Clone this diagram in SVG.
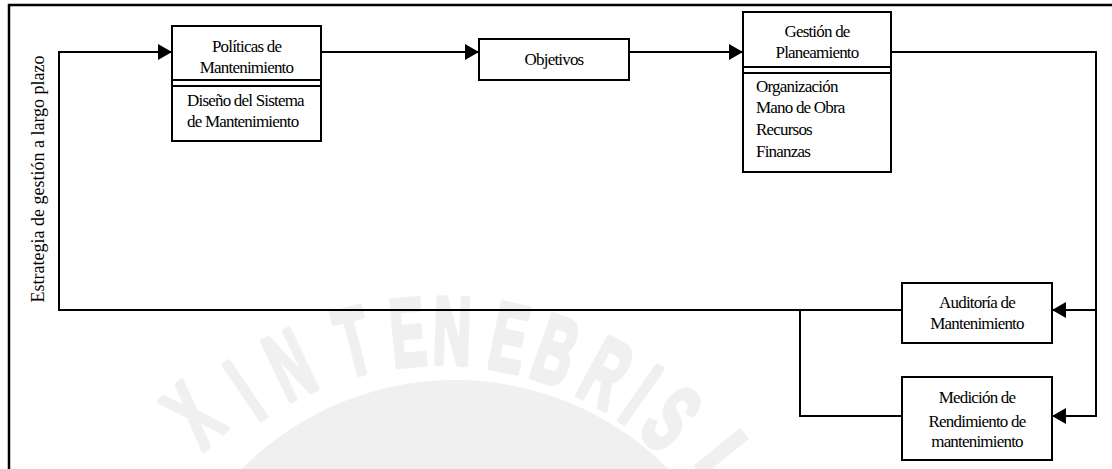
<svg xmlns="http://www.w3.org/2000/svg" width="1112" height="469" viewBox="0 0 1112 469">
  <style>
    .box { fill: #ffffff; stroke: #000000; stroke-width: 2; }
    .sep { stroke: #000000; stroke-width: 2; fill: none; }
    .wire { stroke: #000000; stroke-width: 2; fill: none; }
    .frame { stroke: #000000; stroke-width: 2.5; fill: none; }
    .lbl { font-family: "Liberation Serif", "Times New Roman", serif; font-size: 17px; letter-spacing: -0.8px; fill: #000000; }
    .mid { text-anchor: middle; }
    .side { font-family: "Liberation Serif", "Times New Roman", serif; font-size: 18px; fill: #000000; text-anchor: middle; }
    .seal { font-family: "Liberation Sans", Arial, sans-serif; font-weight: bold; font-size: 96px; fill: #f0f0f0; stroke: #f0f0f0; stroke-width: 5; stroke-linejoin: round; text-anchor: middle; }
  </style>
  <defs>
    <marker id="head" markerUnits="userSpaceOnUse" markerWidth="15" markerHeight="18" refX="14" refY="8" orient="auto">
      <path d="M0,0 L14,8 L0,16 Z" fill="#000000"/>
    </marker>
  </defs>

  <rect width="1112" height="469" fill="#ffffff"/>

  <!-- faint background seal -->
  <g id="seal">
    <circle cx="455" cy="680" r="300" fill="#f0f0f0"/>
    <g transform="translate(440,680)">
      <text class="seal" transform="rotate(-43) scale(0.55,1)" x="0" y="-329">X</text>
      <text class="seal" transform="rotate(-34) scale(0.55,1)" x="0" y="-316">I</text>
      <text class="seal" transform="rotate(-25.5) scale(0.55,1)" x="0" y="-316">N</text>
      <text class="seal" transform="rotate(-14.3) scale(0.55,1)" x="0" y="-316">T</text>
      <text class="seal" transform="rotate(-5.3) scale(0.55,1)" x="0" y="-316">E</text>
      <text class="seal" transform="rotate(2) scale(0.55,1)" x="0" y="-316">N</text>
      <text class="seal" transform="rotate(11.4) scale(0.55,1)" x="0" y="-316">E</text>
      <text class="seal" transform="rotate(19.4) scale(0.55,1)" x="0" y="-316">B</text>
      <text class="seal" transform="rotate(28.4) scale(0.55,1)" x="0" y="-316">R</text>
      <text class="seal" transform="rotate(35.1) scale(0.55,1)" x="0" y="-316">I</text>
      <text class="seal" transform="rotate(41.5) scale(0.55,1)" x="0" y="-316">S</text>
      <rect transform="rotate(51)" x="-7" y="-392" width="14" height="60" fill="#f0f0f0"/>
    </g>
  </g>

  <!-- outer frame (left and top edges) -->
  <path class="frame" d="M9,469 V5 H1112"/>

  <!-- connectors -->
  <g id="connectors">
    <path class="wire" d="M902,310 H59 V52 H172" marker-end="url(#head)"/>
    <path class="wire" d="M902,416 H800 V310"/>
    <path class="wire" d="M321,52 H479" marker-end="url(#head)"/>
    <path class="wire" d="M629,52 H743" marker-end="url(#head)"/>
    <path class="wire" d="M891,52 H1096 V416 H1052" marker-end="url(#head)"/>
    <path class="wire" d="M1096,310 H1052" marker-end="url(#head)"/>
  </g>

  <g id="estrategia">
    <text class="side" transform="translate(44,179) rotate(-90)" x="0" y="0">Estrategia de gestión a largo plazo</text>
  </g>

  <g id="politicas">
    <rect class="box" x="172" y="26" width="149" height="115"/>
    <path class="sep" d="M172,80 H321 M172,86 H321"/>
    <text class="lbl mid" x="246.5" y="52">Políticas de</text>
    <text class="lbl mid" x="246.5" y="73">Mantenimiento</text>
    <text class="lbl" x="187" y="106">Diseño del Sistema</text>
    <text class="lbl" x="187" y="127">de Mantenimiento</text>
  </g>

  <g id="objetivos">
    <rect class="box" x="479" y="39" width="150" height="41"/>
    <text class="lbl mid" x="554" y="65">Objetivos</text>
  </g>

  <g id="planeamiento">
    <rect class="box" x="743" y="12" width="148" height="160"/>
    <path class="sep" d="M743,67 H891 M743,73 H891"/>
    <text class="lbl mid" x="817" y="37">Gestión de</text>
    <text class="lbl mid" x="817" y="58">Planeamiento</text>
    <text class="lbl" x="756" y="92">Organización</text>
    <text class="lbl" x="756" y="113">Mano de Obra</text>
    <text class="lbl" x="756" y="135">Recursos</text>
    <text class="lbl" x="756" y="157">Finanzas</text>
  </g>

  <g id="auditoria">
    <rect class="box" x="902" y="283" width="150" height="60"/>
    <text class="lbl mid" x="977" y="308">Auditoría de</text>
    <text class="lbl mid" x="977" y="329">Mantenimiento</text>
  </g>

  <g id="medicion">
    <rect class="box" x="902" y="377" width="150" height="83"/>
    <text class="lbl mid" x="977" y="403">Medición de</text>
    <text class="lbl mid" x="977" y="427">Rendimiento de</text>
    <text class="lbl mid" x="977" y="447">mantenimiento</text>
  </g>
</svg>
